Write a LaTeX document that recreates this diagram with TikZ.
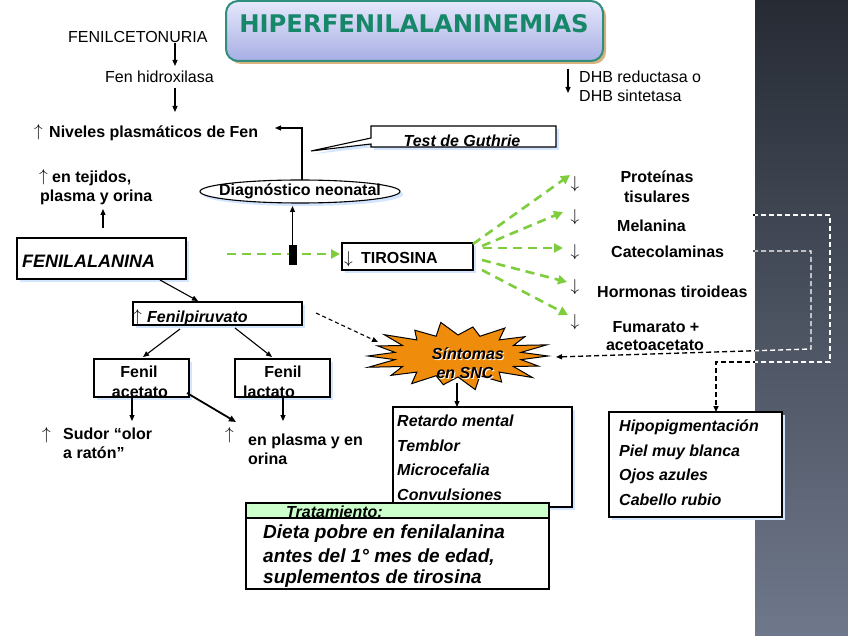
\documentclass[tikz,border=0pt]{standalone}
\usepackage{fontspec}
\setmainfont{Liberation Sans}
\newfontfamily\titlefont{DejaVu Sans}
\usetikzlibrary{arrows.meta,shapes.geometric,shapes.callouts,shadows}
\newcommand\UpA{$\uparrow$}
\newcommand\DnA{$\downarrow$}
\definecolor{stripTop}{HTML}{262B34}
\definecolor{stripBot}{HTML}{6F788B}
\definecolor{titleTop}{HTML}{E6E8FB}
\definecolor{titleBot}{HTML}{A7AEE4}
\definecolor{titleEdge}{HTML}{2F8E7C}
\definecolor{titleText}{HTML}{17876A}
\definecolor{titleShadow}{HTML}{D9B27E}
\definecolor{shBlue}{HTML}{D3E5FF}
\definecolor{grn}{RGB}{125,205,60}
\definecolor{burst}{HTML}{F08C0C}
\definecolor{trtGreen}{HTML}{CCFFCC}
\begin{document}
\begin{tikzpicture}[x=1pt,y=-1pt,
  tx/.style={inner sep=0pt,font=\fontsize{16}{19}\selectfont},
  tb/.style={inner sep=0pt,font=\fontsize{16}{19}\selectfont\bfseries},
  tbi/.style={inner sep=0pt,font=\fontsize{16}{19}\selectfont\bfseries\itshape},
  ar/.style={inner sep=0pt,font=\fontsize{17}{19}\selectfont},
  bx/.style={draw=black,line width=1.1pt,fill=white,inner sep=0pt,
     drop shadow={shadow xshift=3pt,shadow yshift=-3pt,fill=shBlue,opacity=1}},
  plainbx/.style={draw=black,line width=1.1pt,inner sep=0pt},
  arr/.style={line width=1.1pt,-{Triangle[length=6pt,width=5pt]}},
  garr/.style={grn,line width=2.6pt,dash pattern=on 9pt off 6pt,-{Triangle[length=9pt,width=9pt]}},
  darr/.style={line width=1.1pt,dash pattern=on 4pt off 3pt,-{Triangle[length=6pt,width=5pt]}},
  rdash/.style={line width=1.4pt,dash pattern=on 5pt off 3pt},
]
\useasboundingbox (0,0) rectangle (848,636);
\fill[white] (0,0) rectangle (848,636);
% dark strip
\shade[top color=stripTop,bottom color=stripBot] (755,0) rectangle (848,636);

% title
\fill[titleShadow,rounded corners=12pt] (229,4) rectangle (606,64);
\node[draw=titleEdge,line width=2pt,rounded corners=12pt,top color=titleTop,bottom color=titleBot,
  minimum width=377pt,minimum height=60pt,inner sep=0pt] (title) at (414.5,31) {};
\node[anchor=base,inner sep=0pt,text=titleText,font=\titlefont\bfseries\fontsize{24.3}{28}\selectfont] (ttxt) at (414,33) {HIPERFENILALANINEMIAS};

% top left chain
\node[tx,anchor=base west] (fc) at (68,43) {FENILCETONURIA};
\node[tx,anchor=base west] (fh) at (105,83) {Fen hidroxilasa};
\node[ar,anchor=base west] (niv0) at (34,137) {\UpA};
\node[tb,anchor=base west] (niv) at (49,138) {Niveles plasmáticos de Fen};
\coordinate (c1a) at (175,43); \coordinate (c1b) at (175,66);
\coordinate (c2a) at (175,88); \coordinate (c2b) at (175,112);
\draw[arr] (c1a) -- (c1b);
\draw[arr] (c2a) -- (c2b);

% DHB
\coordinate (dhba) at (568,69); \coordinate (dhbb) at (568,93);
\draw[arr] (dhba) -- (dhbb);
\node[tx,anchor=base west] (dhb1) at (579,83) {DHB reductasa o};
\node[tx,anchor=base west] (dhb2) at (579,102) {DHB sintetasa};

% tejidos
\node[ar,anchor=base west] (tej0) at (39,182) {\UpA};
\node[tb,anchor=base west] (tej1) at (52,183) {en tejidos,};
\node[tb,anchor=base west] (tej2) at (40,202) {plasma y orina};

% Test de Guthrie callout
\node[rectangle callout,bx,minimum width=185pt,minimum height=21pt,
  callout absolute pointer={(311,151)},callout pointer width=6pt] (gut) at (463.5,136.5) {};
\node[tbi,anchor=base] (guttxt) at (462,147) {Test de Guthrie};

% Diagnostico
\node[ellipse,bx,minimum width=200pt,minimum height=23pt] (diag) at (300,191.5) {};
\node[tb,anchor=base] (diagtxt) at (300,196) {Diagnóstico neonatal};
\coordinate (dg1) at (302,180); \coordinate (dg2) at (302,128); \coordinate (dg3) at (275,128);
\draw[arr] (dg1) -- (dg2) -- (dg3);

% FENILALANINA
\node[bx,minimum width=169pt,minimum height=41pt] (fen) at (101.5,258.5) {};
\node[inner sep=0pt,anchor=base west,font=\fontsize{18}{21}\selectfont\bfseries\itshape] (fentxt) at (22,268) {FENILALANINA};
\coordinate (t1a) at (103,228); \coordinate (t1b) at (103,209);
\draw[arr] (t1a) -- (t1b);

% green dashed to TIROSINA
\node[bx,minimum width=131pt,minimum height=27pt] (tir) at (407.5,256.5) {};
\node[ar,anchor=base west] (tir0) at (344,264) {\DnA};
\node[tb,anchor=base west] (tirtxt) at (361,264) {TIROSINA};
\coordinate (g0) at (227,254); \coordinate (g0b) at (340,254);
\draw[garr] (g0) -- (g0b);
\node[fill=black,minimum width=8pt,minimum height=20pt,inner sep=0pt] (blk) at (292.5,255) {};
\coordinate (bk2) at (292.5,206);
\draw[arr] (blk.north) -- (bk2);

% right list
\foreach \n/\y in {a/189,b/222,c/257,d/291,e/326}{
  \node[ar,anchor=base] (dn\n) at (575,\y) {\DnA};
}
\node[tb,anchor=base] (prot1) at (657,183) {Proteínas};
\node[tb,anchor=base] (prot2) at (657,203) {tisulares};
\node[tb,anchor=base west] (mel) at (617,232) {Melanina};
\node[tb,anchor=base west] (cat) at (611,258) {Catecolaminas};
\node[tb,anchor=base west] (hor) at (597,297) {Hormonas tiroideas};
\node[tb,anchor=base] (fum1) at (656,332) {Fumarato +};
\node[tb,anchor=base] (fum2) at (655,350) {acetoacetato};

\coordinate (gs1) at (473,244); \coordinate (ge1) at (570,175);
\coordinate (gs2) at (482,246); \coordinate (ge2) at (563,212);
\coordinate (gs3) at (483,248); \coordinate (ge3) at (563,248);
\coordinate (gs4) at (482,260); \coordinate (ge4) at (567,282);
\coordinate (gs5) at (482,270); \coordinate (ge5) at (568,315);
\draw[garr] (gs1) -- (ge1);
\draw[garr] (gs2) -- (ge2);
\draw[garr] (gs3) -- (ge3);
\draw[garr] (gs4) -- (ge4);
\draw[garr] (gs5) -- (ge5);

% Fenilpiruvato
\node[bx,minimum width=169pt,minimum height=23pt] (fpv) at (217.5,313.5) {};
\node[ar,anchor=base west] (fpv0) at (133,321) {\UpA};
\node[tbi,anchor=base west] (fpvtxt) at (147,322) {Fenilpiruvato};
\coordinate (fa) at (160,280); \coordinate (fb) at (198,301);
\draw[arr] (fa) -- (fb);

% Fenil acetato / lactato
\node[bx,minimum width=95pt,minimum height=38pt] (ace) at (141.5,378) {};
\node[tb,anchor=base] (ace1) at (139,377) {Fenil};
\node[tb,anchor=base] (ace2) at (140,397) {acetato};
\node[bx,minimum width=95pt,minimum height=38pt] (lac) at (282.5,378) {};
\node[tb,anchor=base] (lac1) at (283,377) {Fenil};
\node[tb,anchor=base] (lac2) at (269,397) {lactato};
\coordinate (p1a) at (180,329); \coordinate (p1b) at (143,357);
\coordinate (p2a) at (235,328); \coordinate (p2b) at (272,357);
\draw[arr] (p1a) -- (p1b);
\draw[arr] (p2a) -- (p2b);
\coordinate (a1a) at (132,397); \coordinate (a1b) at (132,421);
\coordinate (l1a) at (283,397); \coordinate (l1b) at (283,421);
\draw[arr] (a1a) -- (a1b);
\draw[arr] (l1a) -- (l1b);
\coordinate (x1a) at (187,393); \coordinate (x1b) at (236,422);
\draw[line width=1.8pt,-{Triangle[length=7pt,width=6pt]}] (x1a) -- (x1b);

\node[ar,anchor=base west] (sud0) at (42,439) {\UpA};
\node[tb,anchor=base west] (sud1) at (63,439) {Sudor “olor};
\node[tb,anchor=base west] (sud2) at (63,458) {a ratón”};
\node[ar,anchor=base west] (pl0) at (225,439) {\UpA};
\node[tb,anchor=base west] (pl1) at (248,445) {en plasma y en};
\node[tb,anchor=base west] (pl2) at (248,464) {orina};

% Sintomas (explosion shape)
\coordinate (sncc) at (458,356);
\draw[fill=burst,line width=1pt,line join=miter]
  ({458+90},356)
  \foreach \k/\f in {0/1.0,1/0.95,2/1.08,3/0.97,4/1.1,5/0.94,6/1.03,7/0.97,8/1.06,9/1.0,10/0.95,11/1.07,12/0.96,13/1.1,14/0.95,15/1.04,16/0.97,17/1.05}{
    -- ({458+\f*90*cos(\k*20)},{356+\f*31*sin(\k*20)})
    -- ({458+64*cos(\k*20+10)},{356+21*sin(\k*20+10)})
  } -- cycle;
\node[inner sep=0pt,minimum width=120pt,minimum height=40pt] (snc) at (sncc) {};
\node[tbi,anchor=base,text=white] (sncw1) at (469,360) {Síntomas};
\node[tbi,anchor=base,text=white] (sncw2) at (466,379) {en SNC};
\node[tbi,anchor=base] (snc1) at (468,359) {Síntomas};
\node[tbi,anchor=base] (snc2) at (465,378) {en SNC};
\coordinate (ds1) at (316,313); \coordinate (ds2) at (378,342);
\draw[darr] (ds1) -- (ds2);
\coordinate (sn1) at (457,383); \coordinate (sn2) at (457,407);
\draw[arr] (sn1) -- (sn2);

% Retardo
\node[bx,minimum width=179pt,minimum height=100pt] (ret) at (482.5,457) {};
\node[tbi,anchor=base west] (r1) at (397,426) {Retardo mental};
\node[tbi,anchor=base west] (r2) at (397,451) {Temblor};
\node[tbi,anchor=base west] (r3) at (397,475) {Microcefalia};
\node[tbi,anchor=base west] (r4) at (397,500) {Convulsiones};

% Tratamiento
\node[plainbx,fill=trtGreen,minimum width=303pt,minimum height=15pt] (trh) at (397.5,510.5) {};
\node[plainbx,fill=white,minimum width=303pt,minimum height=71pt] (trb) at (397.5,553.5) {};
\node[tbi,anchor=base west] (trtxt) at (286,517) {Tratamiento:};
\node[inner sep=0pt,anchor=base west,font=\fontsize{19}{22}\selectfont\bfseries\itshape] (tb1) at (263,538) {Dieta pobre en fenilalanina};
\node[inner sep=0pt,anchor=base west,font=\fontsize{19}{22}\selectfont\bfseries\itshape] (tb2) at (263,562) {antes del 1° mes de edad,};
\node[inner sep=0pt,anchor=base west,font=\fontsize{19}{22}\selectfont\bfseries\itshape] (tb3) at (263,583) {suplementos de tirosina};

% right dashed connectors
\coordinate (o1) at (753,215); \coordinate (o2) at (830,215); \coordinate (o3) at (830,362);
\coordinate (o4) at (716,362); \coordinate (o5) at (716,412);
\coordinate (i1) at (753,251); \coordinate (i2) at (811,251); \coordinate (i3) at (811,349);
\coordinate (i4) at (556,357);
\begin{scope}
\clip (0,0) rectangle (755,636);
\draw[rdash,-{Triangle[length=6pt,width=5pt]}] (o1) -- (o2) -- (o3) -- (o4) -- (o5);
\draw[rdash,-{Triangle[length=6pt,width=5pt]}] (i1) -- (i2) -- (i3) -- (i4);
\end{scope}
\begin{scope}
\clip (755,0) rectangle (848,636);
\draw[rdash,white] (o1) -- (o2) -- (o3) -- (o4) -- (o5);
\draw[rdash,white] (i1) -- (i2) -- (i3) -- (i4);
\end{scope}

% Hipopigmentacion
\node[bx,minimum width=173pt,minimum height=105pt] (hip) at (695.5,464.5) {};
\node[tbi,anchor=base west] (h1) at (619,431) {Hipopigmentación};
\node[tbi,anchor=base west] (h2) at (619,456) {Piel muy blanca};
\node[tbi,anchor=base west] (h3) at (619,480) {Ojos azules};
\node[tbi,anchor=base west] (h4) at (619,505) {Cabello rubio};
\end{tikzpicture}
\end{document}
